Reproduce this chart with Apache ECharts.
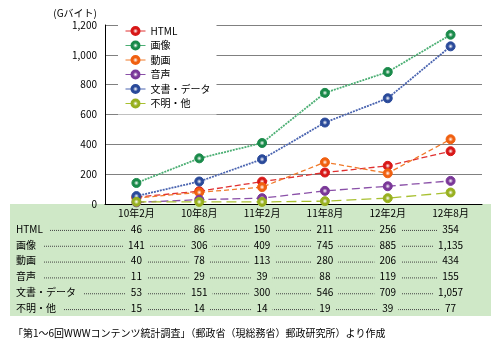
<!DOCTYPE html>
<html>
<head>
<meta charset="utf-8">
<script src="https://cdn.jsdelivr.net/npm/echarts@6/dist/echarts.min.js"></script>
<style>
  html, body { margin: 0; padding: 0; background: #fff; }
  #chart { width: 500px; height: 350px; }
</style>
</head>
<body>
<div id="chart"></div>
<script>
// periods on the x axis
const periods = ['10年2月', '10年8月', '11年2月', '11年8月', '12年2月', '12年8月'];

// series values (Gバイト)
const html = [46, 86, 150, 211, 256, 354];
const image = [141, 306, 409, 745, 885, 1135];
const video = [40, 78, 113, 280, 206, 434];
const audio = [11, 29, 39, 88, 119, 155];
const docs = [53, 151, 300, 546, 709, 1057];
const other = [15, 14, 14, 19, 39, 77];

const seriesNames = ['HTML', '画像', '動画', '音声', '文書・データ', '不明・他'];
const seriesValues = [html, image, video, audio, docs, other];

const yTicks = [0, 200, 400, 600, 800, 1000, 1200];
const unitLabel = '(Gバイト)';
const sourceNote = '「第1〜6回WWWコンテンツ統計調査」（郵政省（現総務省）郵政研究所）より作成';

const FONT = '"Noto Sans CJK JP", "Noto Sans", sans-serif';
const TABLE_BG = '#cfe8c7';

// line colour, marker colour, dash pattern
const styles = [
  { line: '#e03030', mark: '#d81818', dash: [6, 3], w: 1.3 },
  { line: '#4caf74', mark: '#1a8a4a', dash: [2, 1], w: 1.8 },
  { line: '#f07a2a', mark: '#f06010', dash: [5, 3], w: 1.3 },
  { line: '#8a50a8', mark: '#7a3898', dash: [8, 4], w: 1.3 },
  { line: '#4a64b0', mark: '#2a4a9a', dash: [2, 1], w: 1.8 },
  { line: '#a8c030', mark: '#98b020', dash: [10, 5], w: 1.3 }
];

function bead(c) {
  return new echarts.graphic.RadialGradient(0.5, 0.5, 0.55, [
    { offset: 0, color: '#ffffff' },
    { offset: 0.45, color: c },
    { offset: 1, color: c }
  ]);
}

const fmt = (v) => v.toLocaleString('en-US');

const measure = document.createElement('canvas').getContext('2d');
measure.font = '10px ' + FONT;
const textW = (s) => measure.measureText(s).width;

const chart = echarts.init(document.getElementById('chart'));

const lineSeries = seriesNames.map((name, i) => ({
  name,
  type: 'line',
  xAxisIndex: 0,
  yAxisIndex: 0,
  data: seriesValues[i],
  symbol: 'circle',
  symbolSize: 9,
  lineStyle: { color: styles[i].line, width: styles[i].w, type: styles[i].dash },
  itemStyle: { color: bead(styles[i].mark), borderColor: styles[i].mark, borderWidth: 1 },
  z: 3
}));

// table rows: [rowIndex, values...]
const tableRows = seriesValues.map((vals, r) => [r].concat(vals));

const tableSeries = {
  type: 'custom',
  xAxisIndex: 1,
  yAxisIndex: 1,
  data: tableRows,
  silent: true,
  renderItem: (params, api) => {
    const r = api.value(0);
    const vals = seriesValues[r];
    const children = [];
    const centers = vals.map((v, c) => api.coord([c, r]));
    const y = centers[0][1];
    const lastLabel = fmt(vals[vals.length - 1]);
    const lastLeft = centers[vals.length - 1][0] - textW(lastLabel) / 2 - 4;
    children.push({
      type: 'line',
      shape: { x1: 18, y1: y + 1.5, x2: lastLeft, y2: y + 1.5 },
      style: { stroke: '#444', lineWidth: 1, lineDash: [1, 1] }
    });
    children.push({
      type: 'text',
      x: 16, y: y,
      style: {
        text: seriesNames[r], fill: '#000', font: '10px ' + FONT,
        align: 'left', verticalAlign: 'middle',
        backgroundColor: TABLE_BG, padding: [1, 7, 1, 0]
      }
    });
    vals.forEach((v, c) => {
      children.push({
        type: 'text',
        x: centers[c][0], y: y,
        style: {
          text: fmt(v), fill: '#000', font: '10px ' + FONT,
          align: 'center', verticalAlign: 'middle',
          backgroundColor: TABLE_BG, padding: [1, 5]
        }
      });
    });
    return { type: 'group', children };
  }
};

chart.setOption({
  animation: false,
  textStyle: { fontFamily: FONT },
  graphic: [
    {
      type: 'rect',
      shape: { x: 10, y: 204, width: 481, height: 112 },
      style: { fill: TABLE_BG },
      z: -10
    },
    {
      type: 'text',
      left: 13, top: 328,
      style: { text: sourceNote, fill: '#000', font: '10px ' + FONT }
    }
  ],
  legend: {
    data: seriesNames,
    orient: 'vertical',
    left: 118,
    top: 20,
    padding: [5, 6, 5, 7],
    backgroundColor: '#ffffff',
    itemWidth: 20,
    itemHeight: 10,
    itemGap: 2.5,
    lineStyle: { type: 'solid', width: 1 },
    textStyle: { fontSize: 10, color: '#000', lineHeight: 12, fontFamily: FONT },
    z: 10
  },
  grid: [
    { left: 105, right: 18, top: 25, bottom: 146 },
    { left: 105, right: 18, top: 221, bottom: 34 }
  ],
  xAxis: [
    {
      type: 'category',
      gridIndex: 0,
      data: periods,
      axisLine: { lineStyle: { color: '#000', width: 1 } },
      axisTick: { inside: true, length: 5, lineStyle: { color: '#000' } },
      axisLabel: { color: '#000', fontSize: 10, margin: 4 },
      splitLine: { show: false }
    },
    {
      type: 'category',
      gridIndex: 1,
      data: periods,
      show: false
    }
  ],
  yAxis: [
    {
      type: 'value',
      gridIndex: 0,
      min: yTicks[0],
      max: yTicks[yTicks.length - 1],
      interval: 200,
      name: unitLabel,
      nameLocation: 'end',
      nameGap: 7,
      nameTextStyle: { color: '#000', fontSize: 10, align: 'right', padding: [0, 8, 0, 0] },
      axisLine: { show: true, lineStyle: { color: '#000', width: 1 } },
      axisTick: { show: false },
      axisLabel: { color: '#000', fontSize: 10, margin: 8, formatter: (v) => fmt(v) },
      splitLine: { lineStyle: { color: '#808080', width: 1 } }
    },
    {
      type: 'category',
      gridIndex: 1,
      data: seriesNames,
      inverse: true,
      show: false
    }
  ],
  series: lineSeries.concat([tableSeries])
});
</script>
</body>
</html>
